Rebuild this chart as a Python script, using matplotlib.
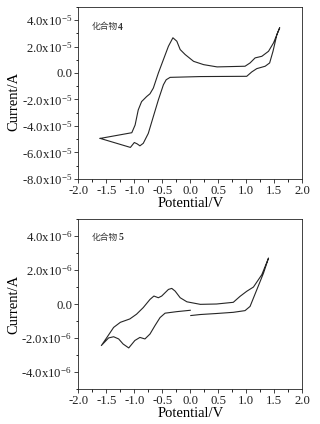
import matplotlib
matplotlib.use("Agg")
import matplotlib.pyplot as plt
from matplotlib.ticker import MultipleLocator, FuncFormatter

# Compound 4 cyclic voltammogram (current in units of 1e-5 A)
c4_v = [-1.61, -1.045, -0.986, -0.93, -0.87, -0.78, -0.72, -0.66, -0.57, -0.48, -0.39, -0.31,
        -0.24, -0.18, -0.09, 0.06, 0.24, 0.48, 0.98, 1.07, 1.16, 1.28, 1.40, 1.49, 1.60,
        1.55, 1.48, 1.42, 1.34, 1.19, 1.10, 1.01, 0.18, -0.36, -0.43, -0.48, -0.57, -0.66,
        -0.75, -0.84, -0.90, -0.95, -1.00, -1.07, -1.61]
c4_i = [-4.94, -4.51, -3.93, -2.79, -2.16, -1.78, -1.57, -1.14, 0.00, 1.01, 2.02, 2.66,
        2.40, 1.77, 1.39, 0.88, 0.63, 0.46, 0.51, 0.76, 1.14, 1.26, 1.64, 2.28, 3.42,
        2.91, 1.64, 0.76, 0.51, 0.33, 0.08, -0.25, -0.27, -0.33, -0.51, -0.89, -2.03, -3.29,
        -4.56, -5.31, -5.50, -5.35, -5.25, -5.62, -4.94]

# Compound 5 cyclic voltammogram (current in units of 1e-6 A)
c5_v = [0.0, -0.24, -0.45, -0.54, -0.63, -0.72, -0.81, -0.90, -0.99, -1.10, -1.20, -1.28,
        -1.37, -1.46, -1.59, -1.49, -1.37, -1.25, -1.08, -0.96, -0.84, -0.72, -0.65, -0.57,
        -0.51, -0.39, -0.33, -0.27, -0.18, -0.06, 0.18, 0.47, 0.77, 0.89, 1.01, 1.13, 1.28,
        1.40, 1.31, 1.19, 1.07, 0.98, 0.77, 0.47, 0.18, 0.01]
c5_i = [-0.37, -0.45, -0.54, -0.80, -1.27, -1.77, -2.06, -1.97, -2.15, -2.59, -2.36, -2.06,
        -1.93, -2.00, -2.45, -1.97, -1.38, -1.08, -0.88, -0.60, -0.21, 0.27, 0.47, 0.37,
        0.47, 0.86, 0.92, 0.76, 0.37, 0.13, -0.02, 0.0, 0.10, 0.45, 0.75, 1.00, 1.73,
        2.71, 1.82, 0.84, -0.14, -0.39, -0.49, -0.56, -0.62, -0.68]

x_ticks = [-2.0, -1.5, -1.0, -0.5, 0.0, 0.5, 1.0, 1.5, 2.0]
labels = ["化合物", "化合物"]
nums = ["4", "5"]

plt.rcParams['font.family'] = ['Liberation Serif', 'DejaVu Serif']
plt.rcParams['mathtext.fontset'] = 'custom'
plt.rcParams['mathtext.rm'] = 'Liberation Serif'
plt.rcParams['mathtext.it'] = 'Liberation Serif:italic'

fig = plt.figure(figsize=(3.2, 4.24), dpi=100)
ax1 = fig.add_axes([0.245, 0.578, 0.699, 0.406])
ax2 = fig.add_axes([0.245, 0.083, 0.699, 0.400])

def fmt(exp):
    def f(v, pos):
        if abs(v) < 1e-12:
            return "0.0"
        return r"%.1fx10$^{-%d}$" % (v / 10**(-exp), exp)
    return f

lc = '#262626'
ax1.plot(c4_v, [i * 1e-5 for i in c4_i], color=lc, lw=0.8)
ax2.plot(c5_v, [i * 1e-6 for i in c5_i], color=lc, lw=0.8)

for ax, exp, ylim, ystep in [(ax1, 5, (-8e-5, 5e-5), 2e-5), (ax2, 6, (-5e-6, 5e-6), 2e-6)]:
    ax.set_xlim(-2, 2)
    ax.set_ylim(*ylim)
    ax.set_xticks(x_ticks)
    ax.xaxis.set_minor_locator(MultipleLocator(0.25))
    ax.yaxis.set_major_locator(MultipleLocator(ystep))
    ax.yaxis.set_minor_locator(MultipleLocator(ystep / 2))
    ax.yaxis.set_major_formatter(FuncFormatter(fmt(exp)))
    ax.xaxis.set_major_formatter(FuncFormatter(lambda v, p: "%.1f" % v))
    ax.tick_params(which='major', direction='out', length=3, width=0.6, labelsize=9.2,
                   pad=1.5, colors='#222222')
    ax.tick_params(which='minor', direction='out', length=1.8, width=0.6)
    for s in ax.spines.values():
        s.set_linewidth(0.6)
        s.set_color('#222222')
    ax.set_xlabel("Potential/V", fontsize=10.5, labelpad=0)
    ax.set_ylabel("Current/A", fontsize=10.5)

ax1.yaxis.set_label_coords(-0.258, 0.45)
ax2.yaxis.set_label_coords(-0.258, 0.5)
ax1.xaxis.set_label_coords(0.5, -0.105)
ax2.xaxis.set_label_coords(0.5, -0.105)

for ax, lab, n, ypos in [(ax1, labels[0], nums[0], 0.885), (ax2, labels[1], nums[1], 0.893)]:
    t = ax.text(0.06, ypos, lab, transform=ax.transAxes, fontsize=6.3,
                family=['Noto Sans CJK SC', 'DejaVu Sans'], va='center', ha='left', color='#333333')
    ax.annotate(n, xycoords=t, xy=(1, 0.45), va='center', ha='left', fontsize=7,
                fontweight='bold', family='Liberation Serif', color='#333333')

fig.savefig("out.png", dpi=100)
